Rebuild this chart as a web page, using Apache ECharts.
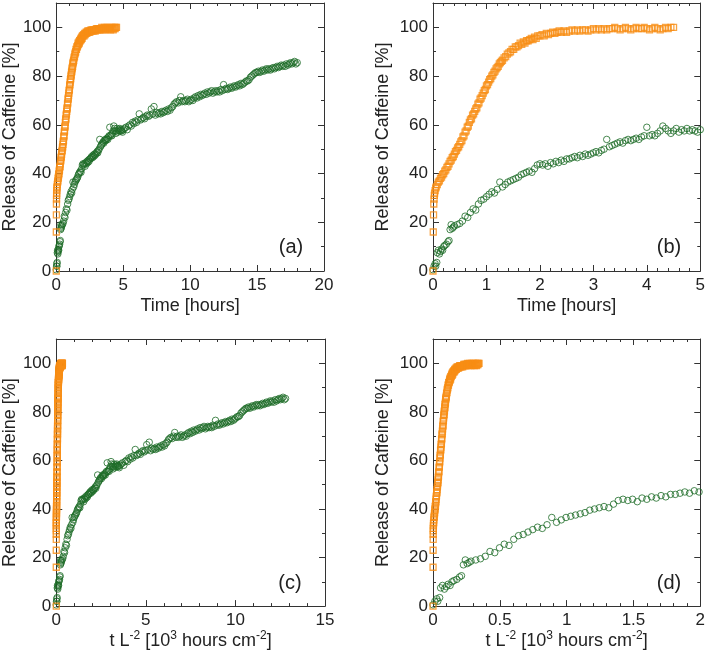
<!DOCTYPE html>
<html>
<head>
<meta charset="utf-8">
<script src="https://cdn.jsdelivr.net/npm/echarts@6/dist/echarts.min.js"></script>
<style>
  html, body { margin: 0; background: #fff; }
  #chart { width: 708px; height: 653px; }
</style>
</head>
<body>
<div id="chart"></div>
<script>
// caffeine release, [time in hours, release %]
const orangeRelease = [
  [0, 0], [0.005, 16], [0.01, 23], [0.015, 27.5], [0.02, 29.5], [0.025, 31], [0.03, 32], [0.04, 33],
  [0.05, 34], [0.06, 34.5], [0.08, 35.5], [0.1, 36.5], [0.12, 37], [0.14, 38], [0.16, 38.5], [0.18, 39.5],
  [0.2, 40], [0.22, 41], [0.24, 41.5], [0.26, 42.5], [0.28, 43], [0.3, 44], [0.32, 45], [0.34, 45.5],
  [0.36, 46.5], [0.38, 47], [0.4, 48], [0.42, 49], [0.44, 49.5], [0.46, 50.5], [0.48, 51], [0.5, 52],
  [0.52, 53], [0.54, 53.5], [0.56, 55], [0.58, 55.5], [0.6, 57], [0.62, 57.5], [0.64, 59], [0.66, 59.5],
  [0.68, 61], [0.7, 62], [0.72, 62.5], [0.74, 64], [0.76, 64.5], [0.78, 65.5], [0.8, 66.5], [0.82, 67],
  [0.84, 68.5], [0.86, 69], [0.88, 70.5], [0.9, 71], [0.92, 72], [0.94, 73], [0.96, 74], [0.98, 74.5],
  [1, 76], [1.02, 76.5], [1.04, 77.5], [1.06, 78.5], [1.08, 79], [1.1, 80], [1.12, 80.5], [1.14, 81.5],
  [1.16, 82], [1.18, 83], [1.2, 83.5], [1.22, 84], [1.24, 85], [1.26, 85.5], [1.28, 86], [1.3, 86.5],
  [1.33, 87.5], [1.36, 88], [1.39, 89], [1.42, 89.5], [1.45, 90], [1.48, 91], [1.51, 91], [1.54, 92],
  [1.57, 92], [1.6, 92.5], [1.63, 93.5], [1.66, 93], [1.69, 94], [1.72, 93.5], [1.75, 94.5], [1.78, 94.5],
  [1.81, 95], [1.84, 95.5], [1.87, 95], [1.9, 96], [1.93, 95.5], [1.96, 96.5], [2, 96.5], [2.04, 97],
  [2.08, 96.5], [2.12, 97.5], [2.16, 97], [2.2, 97.5], [2.24, 98], [2.28, 97.5], [2.32, 98], [2.36, 98.5],
  [2.4, 98], [2.45, 98.5], [2.5, 98], [2.55, 98.5], [2.6, 99], [2.65, 98.5], [2.7, 99], [2.75, 98.5],
  [2.8, 99], [2.85, 99], [2.9, 98.5], [2.95, 99], [3, 99.5], [3.05, 99], [3.1, 99.5], [3.15, 99],
  [3.2, 99.5], [3.25, 99], [3.3, 99.5], [3.35, 99.5], [3.4, 100], [3.45, 99.5], [3.5, 99], [3.55, 99.5],
  [3.6, 100], [3.65, 99.5], [3.7, 99], [3.75, 99.5], [3.8, 100], [3.85, 99.5], [3.9, 99.5], [3.95, 100],
  [4, 99.5], [4.05, 99], [4.1, 99.5], [4.15, 100], [4.2, 99.5], [4.25, 99], [4.3, 99.5], [4.35, 100],
  [4.4, 99.5], [4.45, 100], [4.5, 100]
];

const greenRelease = [
  [0, 0.5], [0.02, 2], [0.04, 3], [0.05, 2], [0.07, 3.5], [0.08, 7.5], [0.1, 8.5], [0.12, 7],
  [0.14, 8], [0.16, 9], [0.18, 8.5], [0.2, 10], [0.22, 10.5], [0.25, 11], [0.28, 12], [0.3, 12.5],
  [0.32, 17], [0.34, 19], [0.36, 17.5], [0.38, 18], [0.4, 18.5], [0.45, 19], [0.5, 19.5], [0.55, 20.5],
  [0.6, 22.5], [0.65, 22], [0.7, 24], [0.75, 25.5], [0.8, 25], [0.85, 27.5], [0.9, 29], [0.95, 29.5],
  [1, 30.5], [1.05, 31.5], [1.1, 32.5], [1.15, 32], [1.2, 33.5], [1.25, 36.5], [1.3, 34.5], [1.35, 35.5],
  [1.4, 36.5], [1.45, 37], [1.5, 37.5], [1.55, 38], [1.6, 38.5], [1.65, 39.5], [1.7, 40], [1.75, 40.5],
  [1.8, 41], [1.85, 40.5], [1.9, 42], [1.95, 43.5], [2, 44], [2.05, 43.5], [2.1, 44], [2.15, 43],
  [2.2, 44.5], [2.25, 44], [2.3, 45], [2.35, 44.5], [2.4, 45.5], [2.45, 45], [2.5, 46], [2.55, 46],
  [2.6, 46.5], [2.65, 47], [2.7, 46.5], [2.75, 47.5], [2.8, 47], [2.85, 48], [2.9, 47.5], [2.95, 48],
  [3, 48.5], [3.05, 49], [3.1, 48.5], [3.15, 49.5], [3.2, 50], [3.25, 54], [3.3, 51], [3.35, 51.5],
  [3.4, 52], [3.45, 52.5], [3.5, 53], [3.55, 52.5], [3.6, 53.5], [3.65, 54], [3.7, 53.5], [3.75, 54],
  [3.8, 54.5], [3.85, 54], [3.9, 55], [3.95, 55.5], [4, 59], [4.05, 55.5], [4.1, 56], [4.15, 55.5],
  [4.2, 56.5], [4.25, 57.5], [4.3, 59.5], [4.35, 58.5], [4.4, 57.5], [4.45, 56.5], [4.5, 57.5], [4.55, 58.5],
  [4.6, 57], [4.65, 58], [4.7, 57.5], [4.75, 58.5], [4.8, 57.5], [4.85, 58], [4.9, 57.5], [4.95, 57],
  [5, 58], [5.1, 58.5], [5.2, 59], [5.3, 58], [5.4, 59.5], [5.5, 60], [5.6, 59.5], [5.7, 61],
  [5.8, 60.5], [5.9, 61.5], [6, 61], [6.1, 62], [6.2, 64.5], [6.3, 62], [6.4, 62.5], [6.5, 63],
  [6.6, 62.5], [6.7, 63.5], [6.8, 64], [6.9, 63.5], [7, 64], [7.1, 66.5], [7.2, 64.5], [7.3, 67.5],
  [7.4, 64], [7.5, 65], [7.6, 64.5], [7.7, 65], [7.8, 64.5], [7.9, 65.5], [8, 65], [8.1, 65.5],
  [8.2, 66], [8.3, 65.5], [8.4, 66.5], [8.5, 66], [8.6, 67], [8.7, 67.5], [8.8, 68.5], [8.9, 69],
  [9, 69.5], [9.1, 69], [9.2, 70], [9.3, 71.5], [9.4, 69.5], [9.5, 70], [9.6, 69.5], [9.7, 70],
  [9.8, 70.5], [9.9, 69.5], [10, 70], [10.1, 70.5], [10.2, 70], [10.3, 71], [10.4, 71.5], [10.5, 71],
  [10.6, 72], [10.7, 71.5], [10.8, 72.5], [10.9, 72], [11, 72.5], [11.1, 73], [11.2, 72.5], [11.3, 73.5],
  [11.4, 73], [11.5, 73.5], [11.6, 74], [11.7, 73], [11.8, 73.5], [11.9, 74], [12, 73.5], [12.1, 74],
  [12.2, 73.5], [12.3, 74.5], [12.4, 74], [12.5, 76.5], [12.6, 74.5], [12.7, 75], [12.8, 74.5], [12.9, 75],
  [13, 75.5], [13.1, 75], [13.2, 75.5], [13.3, 76], [13.4, 75.5], [13.5, 76], [13.6, 76.5], [13.7, 76],
  [13.8, 77], [13.9, 76.5], [14, 77], [14.1, 77.5], [14.2, 78], [14.3, 78], [14.4, 78.5], [14.5, 79.5],
  [14.6, 80], [14.7, 80.5], [14.8, 81], [14.9, 81.5], [15, 81.5], [15.1, 82], [15.2, 81.5], [15.3, 82],
  [15.4, 82.5], [15.5, 82], [15.6, 82.5], [15.7, 83], [15.8, 82.5], [15.9, 83], [16, 82.5], [16.1, 83],
  [16.2, 83.5], [16.3, 83], [16.4, 83.5], [16.5, 84], [16.6, 83.5], [16.7, 84], [16.8, 84.5], [16.9, 84],
  [17, 84.5], [17.1, 84], [17.2, 85], [17.3, 84.5], [17.4, 85], [17.5, 85.5], [17.6, 85], [17.7, 85.5],
  [17.8, 86], [17.9, 85], [18, 85.5]
];

// 1/L^2 of each sample, 10^3 cm^-2 (turns hours into t L^-2)
const orangeInvL2 = 0.0765;
const greenInvL2 = 0.711;

const panelLabels = ['(a)', '(b)', '(c)', '(d)'];
const yName = 'Release of Caffeine [%]';
const timeName = 'Time [hours]';
const tlName = '{n|t L}{s|-2}{n| [10}{s|3}{n| hours cm}{s|-2}{n|]}';

const FONT = '"Liberation Sans", Arial, sans-serif';
const INK = '#222';
const LINE = '#333';
const ORANGE = '#f88d14';
const GREEN = '#1d6b27';

const panels = [
  { grid: { left: 54, top: 3, width: 270, height: 268 }, xMax: 20, xStep: 5, name: timeName, yGap: 37, xGap: 24,
    orange: orangeRelease, green: greenRelease, label: [291, 247] },
  { grid: { left: 433, top: 3, width: 269, height: 268 }, xMax: 5, xStep: 1, name: timeName, yGap: 41, xGap: 24,
    orange: orangeRelease, green: greenRelease, label: [669, 247] },
  { grid: { left: 54, top: 339, width: 271, height: 269 }, xMax: 15, xStep: 5, name: tlName, yGap: 37, xGap: 17,
    orange: orangeRelease.map(d => [d[0] * orangeInvL2, d[1]]),
    green: greenRelease.map(d => [d[0] * greenInvL2, d[1]]), label: [290, 583] },
  { grid: { left: 433, top: 339, width: 269, height: 269 }, xMax: 2, xStep: 0.5, name: tlName, yGap: 41, xGap: 17,
    orange: orangeRelease.map(d => [d[0] * orangeInvL2, d[1]]),
    green: greenRelease.map(d => [d[0] * greenInvL2, d[1]]), label: [669, 583] }
];

const tick = { show: true, inside: true, length: 6, lineStyle: { color: LINE, width: 1 } };
const minor = { show: true, splitNumber: 5, length: 3, lineStyle: { color: LINE, width: 1 } };
const axisLine = { show: true, onZero: false, lineStyle: { color: LINE, width: 1 } };
const labelStyle = { color: INK, fontSize: 17, fontFamily: FONT };

const grids = [], xAxes = [], yAxes = [], series = [], graphic = [];

panels.forEach((p, i) => {
  grids.push(p.grid);
  const xBase = { gridIndex: i, type: 'value', min: 0, max: p.xMax, interval: p.xStep,
    axisLine, axisTick: tick, minorTick: minor, splitLine: { show: false } };
  xAxes.push(Object.assign({}, xBase, {
    position: 'bottom',
    axisLabel: Object.assign({ margin: 6 }, labelStyle),
    name: p.name, nameLocation: 'middle', nameGap: p.xGap,
    nameTextStyle: {
      color: INK, fontSize: 18, fontFamily: FONT, lineHeight: 22,
      rich: {
        n: { color: INK, fontSize: 18, fontFamily: FONT, lineHeight: 22 },
        s: { color: INK, fontSize: 12, fontFamily: FONT, lineHeight: 12, verticalAlign: 'top' }
      }
    }
  }));
  xAxes.push(Object.assign({}, xBase, { position: 'top', axisLabel: { show: false } }));

  const yBase = { gridIndex: i, type: 'value', min: 0, max: 110, interval: 20,
    axisLine, axisTick: tick, minorTick: Object.assign({}, minor, { splitNumber: 2 }), splitLine: { show: false } };
  yAxes.push(Object.assign({}, yBase, {
    position: 'left',
    axisLabel: Object.assign({ margin: 5, showMaxLabel: false }, labelStyle),
    name: yName, nameLocation: 'middle', nameGap: p.yGap,
    nameTextStyle: { color: INK, fontSize: 18, fontFamily: FONT }
  }));
  yAxes.push(Object.assign({}, yBase, { position: 'right', axisLabel: { show: false } }));

  series.push({
    type: 'scatter', xAxisIndex: 2 * i, yAxisIndex: 2 * i, data: p.green,
    symbol: 'circle', symbolSize: 6.5, clip: true,
    itemStyle: { color: 'transparent', borderColor: GREEN, borderWidth: 1 }
  });
  series.push({
    type: 'scatter', xAxisIndex: 2 * i, yAxisIndex: 2 * i, data: p.orange,
    symbol: 'rect', symbolSize: 6, clip: true,
    itemStyle: { color: 'transparent', borderColor: ORANGE, borderWidth: 1.3 }
  });

  graphic.push({
    type: 'text', x: p.label[0], y: p.label[1],
    style: { text: panelLabels[i], fill: INK, font: '20px ' + FONT, textAlign: 'center', textVerticalAlign: 'middle' }
  });
});

const chart = echarts.init(document.getElementById('chart'));
chart.setOption({
  animation: false,
  backgroundColor: '#fff',
  grid: grids,
  xAxis: xAxes,
  yAxis: yAxes,
  series,
  graphic
});
</script>
</body>
</html>
